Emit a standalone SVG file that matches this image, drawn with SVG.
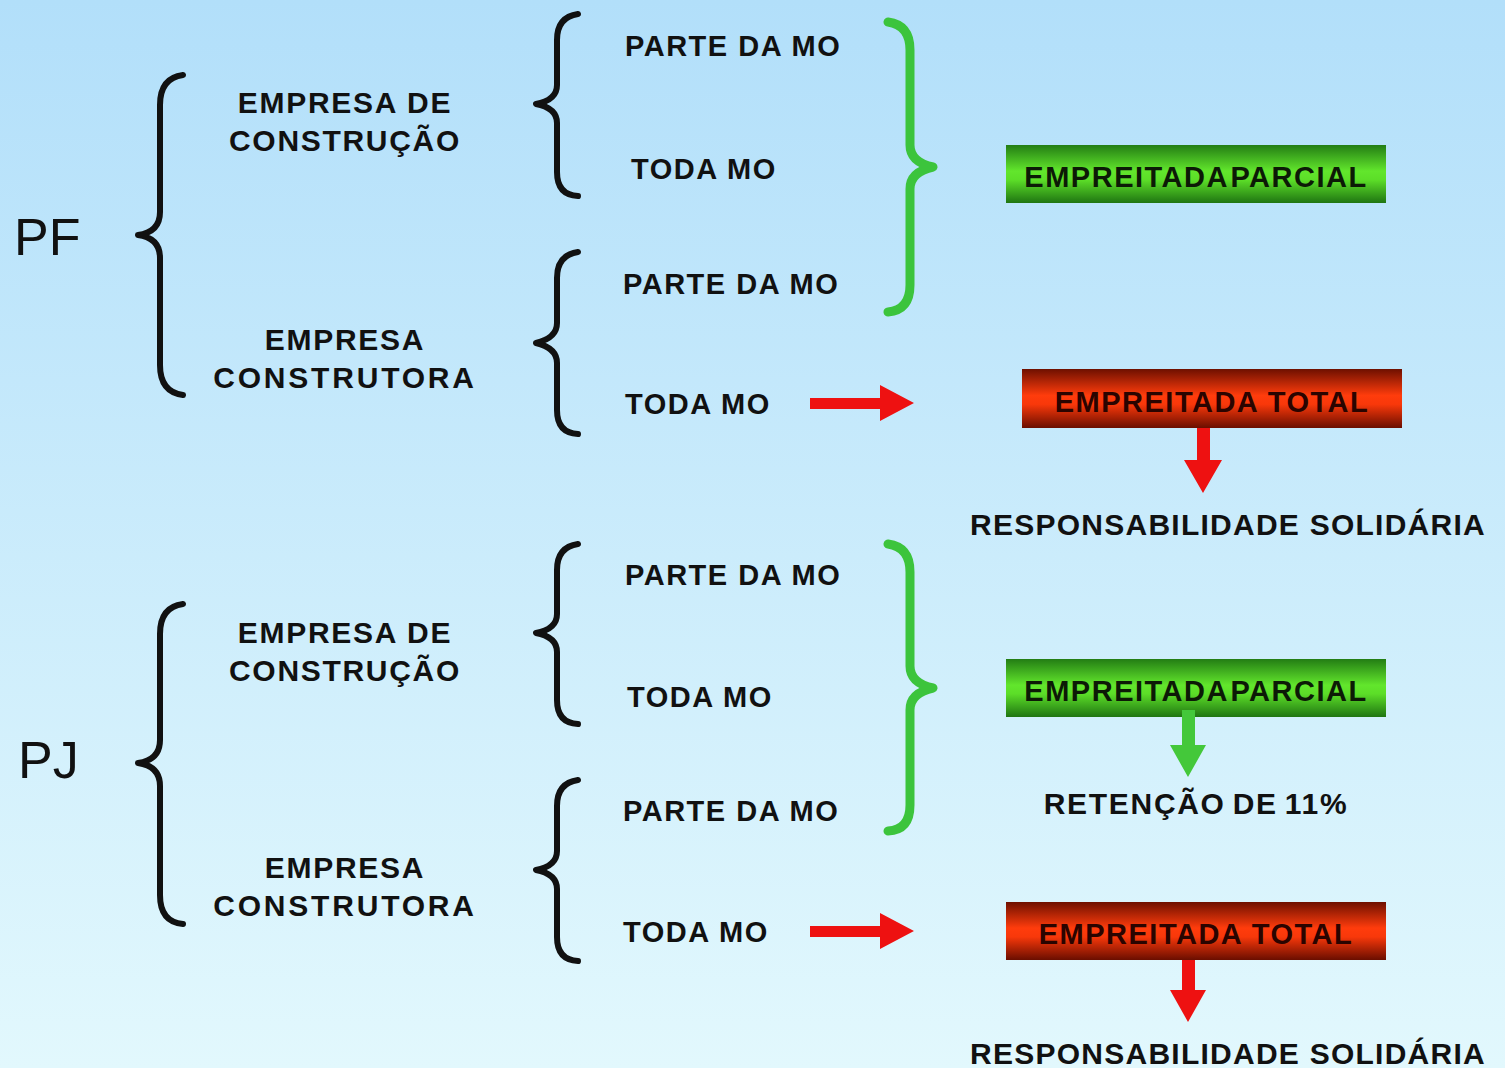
<svg xmlns="http://www.w3.org/2000/svg" width="1505" height="1068" viewBox="0 0 1505 1068">
<defs>
<linearGradient id="bg" x1="0" y1="0" x2="0" y2="1">
<stop offset="0" stop-color="#b2dffa"/>
<stop offset="1" stop-color="#e2f8fd"/>
</linearGradient>
<linearGradient id="gGreen" x1="0" y1="0" x2="0" y2="1">
<stop offset="0" stop-color="#237d14"/>
<stop offset="0.45" stop-color="#62e62c"/>
<stop offset="0.6" stop-color="#5cde28"/>
<stop offset="1" stop-color="#1f7512"/>
</linearGradient>
<linearGradient id="gRed" x1="0" y1="0" x2="0" y2="1">
<stop offset="0" stop-color="#6e1000"/>
<stop offset="0.45" stop-color="#ff3c0c"/>
<stop offset="0.6" stop-color="#f8380a"/>
<stop offset="1" stop-color="#6a0e00"/>
</linearGradient>
<style>
.t{font-family:"Liberation Sans",Arial,sans-serif;font-weight:bold;font-size:29px;fill:#111;letter-spacing:1.5px}
.l{font-family:"Liberation Sans",Arial,sans-serif;font-weight:bold;font-size:30px;fill:#111;letter-spacing:1.7px}
.w{letter-spacing:2.8px}
.r{letter-spacing:1.25px}
.big{font-family:"Liberation Sans",Arial,sans-serif;font-size:52px;fill:#111}
.bt{font-family:"Liberation Sans",Arial,sans-serif;font-weight:bold;font-size:29px;letter-spacing:1.5px}
.brace{fill:none;stroke:#111;stroke-width:6;stroke-linecap:round;stroke-linejoin:round}
.gbrace{fill:none;stroke:#3cc43c;stroke-width:9;stroke-linecap:round;stroke-linejoin:round}
.red{fill:#ee1111}
.grn{fill:#44c83a}
</style>
</defs>
<rect width="1505" height="1068" fill="url(#bg)"/>

<g id="pf">
<text class="big" x="14" y="255">PF</text>
<path class="brace" d="M183,75 Q160,78 160,105 L160,212 Q160,232 138,235 Q160,238 160,258 L160,365 Q160,392 183,395"/>
</g>
<g id="pj">
<text class="big" x="18" y="778">PJ</text>
<path class="brace" d="M183,604 Q160,607 160,634 L160,740 Q160,760 138,763 Q160,766 160,786 L160,895 Q160,922 183,924"/>
</g>

<g id="pf-emp-construcao">
<text class="l" x="345" y="113" text-anchor="middle">EMPRESA DE</text>
<text class="l" x="345" y="151" text-anchor="middle">CONSTRUÇÃO</text>
<path class="brace" d="M578,14 Q557,17 557,40 L557,85 Q557,100 536,104 Q557,108 557,123 L557,172 Q557,195 578,196"/>
</g>
<g id="pf-emp-construtora">
<text class="l" x="345" y="350" text-anchor="middle">EMPRESA</text>
<text class="l w" x="345" y="388" text-anchor="middle">CONSTRUTORA</text>
<path class="brace" d="M578,252 Q557,255 557,278 L557,323 Q557,338 536,343 Q557,348 557,363 L557,410 Q557,433 578,434"/>
</g>
<g id="pj-emp-construcao">
<text class="l" x="345" y="643" text-anchor="middle">EMPRESA DE</text>
<text class="l" x="345" y="681" text-anchor="middle">CONSTRUÇÃO</text>
<path class="brace" d="M578,544 Q557,547 557,570 L557,614 Q557,629 536,633 Q557,637 557,652 L557,700 Q557,723 578,724"/>
</g>
<g id="pj-emp-construtora">
<text class="l" x="345" y="878" text-anchor="middle">EMPRESA</text>
<text class="l w" x="345" y="916" text-anchor="middle">CONSTRUTORA</text>
<path class="brace" d="M578,780 Q557,783 557,806 L557,851 Q557,866 536,870 Q557,874 557,889 L557,937 Q557,960 578,961"/>
</g>

<g id="pf-items">
<text class="t" x="625" y="56">PARTE DA MO</text>
<text class="t" x="631" y="179">TODA MO</text>
<text class="t" x="623" y="294">PARTE DA MO</text>
<text class="t" x="625" y="414">TODA MO</text>
</g>
<g id="pj-items">
<text class="t" x="625" y="585">PARTE DA MO</text>
<text class="t" x="627" y="707">TODA MO</text>
<text class="t" x="623" y="821">PARTE DA MO</text>
<text class="t" x="623" y="942">TODA MO</text>
</g>

<g id="green-braces">
<path class="gbrace" d="M888,22 Q910,25 910,50 L910,145 Q910,162 933,167 Q910,172 910,189 L910,285 Q910,310 888,312"/>
<path class="gbrace" d="M888,544 Q910,547 910,572 L910,666 Q910,683 933,688 Q910,693 910,710 L910,805 Q910,830 888,831"/>
</g>

<g id="pf-parcial">
<rect x="1006" y="145" width="380" height="58" fill="url(#gGreen)"/>
<text class="bt" x="1196" y="187" text-anchor="middle" fill="#0c1a06" word-spacing="-7">EMPREITADA PARCIAL</text>
</g>
<g id="pf-total">
<rect x="1022" y="369" width="380" height="59" fill="url(#gRed)"/>
<text class="bt" x="1212" y="412" text-anchor="middle" fill="#2a0400">EMPREITADA TOTAL</text>
</g>
<g id="pf-resp">
<text class="l r" x="1228" y="535" text-anchor="middle">RESPONSABILIDADE SOLIDÁRIA</text>
</g>
<g id="pj-parcial">
<rect x="1006" y="659" width="380" height="58" fill="url(#gGreen)"/>
<text class="bt" x="1196" y="701" text-anchor="middle" fill="#0c1a06" word-spacing="-7">EMPREITADA PARCIAL</text>
</g>
<g id="pj-retencao">
<text class="l" x="1196" y="814" text-anchor="middle" word-spacing="-3">RETENÇÃO DE 11%</text>
</g>
<g id="pj-total">
<rect x="1006" y="902" width="380" height="58" fill="url(#gRed)"/>
<text class="bt" x="1196" y="944" text-anchor="middle" fill="#2a0400">EMPREITADA TOTAL</text>
</g>
<g id="pj-resp">
<text class="l r" x="1228" y="1064" text-anchor="middle">RESPONSABILIDADE SOLIDÁRIA</text>
</g>

<g id="connectors">
<polygon class="red" points="810,398 880,398 880,385 914,403 880,421 880,409 810,409"/>
<polygon class="red" points="810,926 880,926 880,913 914,931 880,949 880,937 810,937"/>
<polygon class="red" points="1197,428 1210,428 1210,460 1222,460 1203,493 1184,460 1197,460"/>
<polygon class="grn" points="1182,710 1195,710 1195,745 1206,745 1188,777 1170,745 1182,745"/>
<polygon class="red" points="1182,960 1195,960 1195,990 1206,990 1188,1022 1170,990 1182,990"/>
</g>
</svg>
